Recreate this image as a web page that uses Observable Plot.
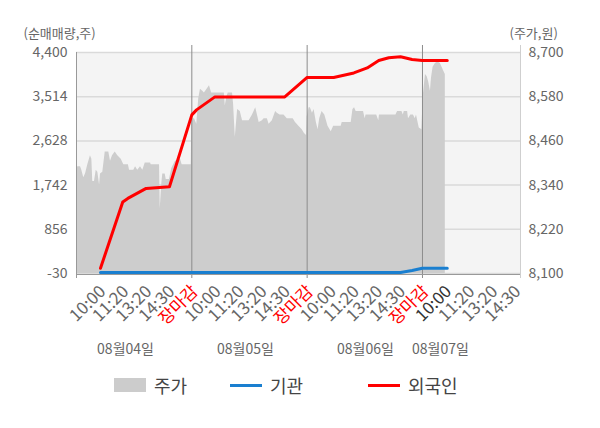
<!DOCTYPE html>
<html><head><meta charset="utf-8">
<script src="https://cdn.jsdelivr.net/npm/d3@7"></script>
<script src="https://cdn.jsdelivr.net/npm/@observablehq/plot@0.6"></script>
<style>
body{margin:0;background:#fff;font-family:"Noto Sans CJK KR","Noto Sans",sans-serif;}
#wrap{position:relative;width:600px;height:428px;overflow:hidden;}
.leg{position:absolute;top:374px;height:22px;display:flex;align-items:center;font-size:18px;color:#444;white-space:nowrap;}
.sw{display:inline-block;width:32px;margin-right:8px;}
</style></head><body><div id="wrap"><div id="chart"></div>
<div class="leg" style="left:114px"><span class="sw" style="height:14px;background:#cccccc"></span>주가</div>
<div class="leg" style="left:230px"><span class="sw" style="height:3px;background:#1a7fd0"></span>기관</div>
<div class="leg" style="left:368px"><span class="sw" style="height:3px;background:#ff0000"></span>외국인</div>
</div>
<script>
// ---- data ----
const dayLabels = ["08월04일","08월05일","08월06일","08월07일"];
const dayLabelPos = [42.5, 146.5, 250.6, 315.6];
const slotTicks = [20, 40, 60, 80, 100];
const slotLabels = ["10:00","11:20","13:20","14:30","장마감"];
const leftTicks = [-30, 856, 1742, 2628, 3514, 4400];
const rightTicks = [8100, 8220, 8340, 8460, 8580, 8700];

// price [slot within day, price]
const price0804 = [[0,8365],[1,8390],[3.5,8390],[4.6,8380],[6.3,8360],[7.8,8370],[9.8,8395],[12.1,8420],[13.3,8410],[14.1,8350],[15.6,8350],[17.1,8380],[18.5,8375],[20,8340],[20.8,8370],[22.8,8375],[24.9,8430],[28,8430],[29.5,8405],[31.2,8420],[33.6,8430],[35.8,8420],[38.8,8410],[41,8395],[45,8395],[46,8380],[49.7,8380],[51.2,8390],[53.1,8380],[55.5,8390],[57.5,8380],[59.6,8400],[64.2,8400],[64.8,8395],[72,8395],[72.6,8275],[74,8345],[74.8,8370],[76.9,8370],[77.8,8355],[80.6,8355],[82.6,8385],[85.8,8405],[90.2,8410],[91.6,8395],[94.5,8395],[99.5,8395]];
const price0805 = [[0,8520],[2.3,8520],[4.3,8505],[6,8575],[7.5,8600],[9.5,8595],[10.9,8590],[13.2,8600],[15.3,8610],[17.2,8590],[28.2,8590],[29,8555],[30.4,8580],[31.6,8590],[35.3,8590],[36.2,8560],[37.7,8470],[39.7,8545],[42,8540],[44,8515],[49.7,8515],[52.6,8530],[55.4,8550],[56.9,8530],[58.4,8510],[61.2,8515],[62.7,8520],[65.5,8520],[67,8505],[69.8,8515],[72.7,8540],[74.1,8535],[76.5,8530],[79.9,8530],[82.8,8520],[85.6,8520],[87.9,8520],[89.9,8510],[92.8,8500],[95.7,8490],[97.7,8480],[99.5,8475]];
const price0806 = [[0,8525],[1.7,8550],[2.8,8550],[4.6,8535],[6,8545],[8,8510],[9.5,8490],[10.9,8520],[12.9,8540],[15.3,8530],[18.1,8500],[20.9,8485],[23,8500],[29.5,8500],[30.4,8510],[38.2,8510],[39.7,8545],[41.1,8550],[42.5,8540],[48.9,8540],[50.3,8520],[51.1,8530],[60.3,8530],[62.1,8515],[62.7,8530],[77,8530],[78.4,8540],[82.2,8540],[83.4,8530],[84.2,8540],[87.1,8540],[87.9,8520],[89.9,8530],[92.2,8530],[93.7,8520],[94.8,8530],[97.2,8495],[99.5,8490]];
const price0807 = [[0.6,8580],[2.6,8640],[4,8635],[5.4,8620],[6.9,8595],[7.8,8630],[9.2,8660],[11.2,8670],[13.2,8675],[15.5,8670],[17,8660],[18.4,8650],[19.8,8640]];

// net buying (global position, shares)
const foreignPos = [20.8, 40.1, 44.5, 60.4, 80.6, 100, 104.1, 120, 180.6, 200, 223, 240.5, 252.1, 262.1, 270.8, 281, 291, 299.8, 321.5];
const foreignVal = [75, 1405, 1475, 1675, 1710, 3150, 3250, 3510, 3510, 3900, 3900, 3990, 4090, 4240, 4295, 4315, 4260, 4240, 4240];
const instPos = [20.8, 281, 291, 299.8, 321.5];
const instVal = [-10, -10, 30, 75, 75];

// ---- build ----
const toY = p => -30 + (p - 8100) / 600 * 4430;
const fromY = v => 8100 + (v + 30) / 4430 * 600;
const priceData = [price0804, price0805, price0806, price0807]
  .flatMap((arr, d) => arr.map(([s, p]) => ({u: d * 100 + s, v: toY(p), base: -30})));
const foreign = foreignPos.map((u, i) => ({u, v: foreignVal[i]}));
const inst = instPos.map((u, i) => ({u, v: instVal[i]}));
const dates = dayLabels.map((t, i) => ({t, u: dayLabelPos[i]}));

const allTicks = [0,1,2,3].flatMap(d => slotTicks.map(s => d * 100 + s)).filter(t => t <= 385);
const tickLabel = t => { const d = Math.floor((t - 1) / 100); return slotLabels[slotTicks.indexOf(Math.round(t - d * 100))]; };
const tickColor = t => tickLabel(t) === "장마감" ? "#ff0000" : (t === 320 ? "#333333" : "#666666");

const font = {fontSize: 14};

const chart = Plot.plot({
  width: 600, height: 370,
  marginTop: 52, marginBottom: 97, marginLeft: 76, marginRight: 80,
  style: {fontFamily: '"Noto Sans CJK KR","Noto Sans",sans-serif', background: "transparent"},
  x: {domain: [0, 385], axis: null},
  y: {domain: [-30, 4400]},
  marks: [
    Plot.frame({fill: "#f4f4f4", stroke: "none"}),
    Plot.gridY(leftTicks, {stroke: "#dadada", strokeOpacity: 1, strokeWidth: 1.5}),
    Plot.areaY(priceData, {x: "u", y1: "base", y2: "v", fill: "#cdcdcd"}),
    Plot.ruleX([100, 200, 300], {stroke: "#8c8c8c", strokeWidth: 1, insetTop: -7, insetBottom: -5}),
    Plot.ruleX([0], {stroke: "#999", strokeWidth: 1, insetBottom: -5}),
    Plot.ruleX([385], {stroke: "#cfcfcf", strokeWidth: 1, insetTop: -7, insetBottom: -5}),
    Plot.ruleY([-30], {stroke: "#999", strokeWidth: 1, dy: 1}),
    Plot.line(inst, {x: "u", y: "v", stroke: "#1a7fd0", strokeWidth: 3}),
    Plot.line(foreign, {x: "u", y: "v", stroke: "#ff0000", strokeWidth: 3}),
    Plot.axisY({anchor: "left", ticks: leftTicks, tickFormat: d => d.toLocaleString("en-US"), tickSize: 0, tickPadding: 9, fill: "#666", label: null, ...font}),
    Plot.axisY({anchor: "right", ticks: rightTicks.map(toY), tickFormat: v => Math.round(fromY(v)).toLocaleString("en-US"), tickSize: 0, tickPadding: 8, fill: "#666", label: null, ...font}),
    Plot.text(allTicks, {x: d => d, text: tickLabel, fill: tickColor, frameAnchor: "bottom", rotate: -45, textAnchor: "end", dx: 7, dy: 19, fontSize: 17}),
    Plot.text(dates, {x: "u", text: "t", frameAnchor: "bottom", dy: 80, fontSize: 14, fill: "#666"}),
    Plot.text(["(순매매량,주)"], {frameAnchor: "top-left", dx: -53, dy: -24, textAnchor: "start", fontSize: 13, fill: "#666"}),
    Plot.text(["(주가,원)"], {frameAnchor: "top-right", dx: -11, dy: -24, textAnchor: "start", fontSize: 13, fill: "#666"})
  ]
});
document.getElementById("chart").appendChild(chart);
</script></body></html>
